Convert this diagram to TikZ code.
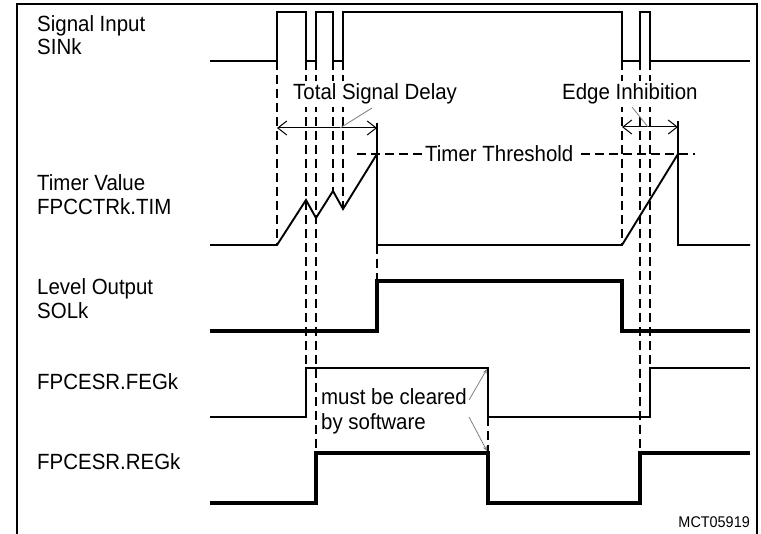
\documentclass[tikz,border=0pt]{standalone}
\usepackage{fontspec}
\setmainfont{Liberation Sans}[FakeStretch=0.93]
\usetikzlibrary{arrows.meta}
\begin{document}
\begin{tikzpicture}[x=1pt,y=-1pt,
  thickwave/.style={line width=3.4pt, line join=miter},
  sigwave/.style={line width=2.6pt, line join=miter},
  thinwave/.style={line width=1.9pt, line join=miter},
  guide/.style={line width=1.2pt, dash pattern=on 9pt off 5pt},
  dimline/.style={line width=1pt, {Straight Barb[length=9pt,width=14pt]}-{Straight Barb[length=9pt,width=14pt]}},
  leader/.style={line width=0.8pt, draw=gray},
  lbl/.style={font=\fontsize{22}{25}\selectfont, inner sep=0pt, anchor=base west},
  tag/.style={lbl, fill=white, inner sep=3pt}
]
\useasboundingbox (0,0) rectangle (761,534);
% frame
\draw[line width=1.5pt] (17,534) -- (17,4) -- (757,4) -- (757,534);

% guide lines
\draw[guide] (277,61) -- (277,245);
\draw[guide] (306,61) -- (306,368);
\draw[guide] (316,61) -- (316,453);
\draw[guide] (333,61) -- (333,191);
\draw[guide] (343,61) -- (343,209);
\draw[guide] (377,245) -- (377,281);
\draw[guide] (622,61) -- (622,245);
\draw[guide] (640,61) -- (640,453);
\draw[guide] (650,61) -- (650,368);
\draw[guide] (488,417) -- (488,453);
\draw[guide] (357,154) -- (695,154);

% waveforms
\draw[sigwave] (210,61) -- (277,61) -- (277,12) -- (306,12) -- (306,61) -- (316,61) -- (316,12) -- (333,12) -- (333,61) -- (343,61) -- (343,12) -- (622,12) -- (622,61) -- (640,61) -- (640,12) -- (650,12) -- (650,61) -- (750,61);
\draw[thinwave] (210,245) -- (277,245) -- (306,200) -- (316,218) -- (333,191) -- (343,209) -- (377,154) -- (377,245) -- (622,245) -- (678,154) -- (678,245) -- (750,245);
\draw[thickwave] (210,331) -- (377,331) -- (377,281) -- (622,281) -- (622,331) -- (750,331);
\draw[thinwave] (210,417) -- (306,417) -- (306,368) -- (488,368) -- (488,417) -- (650,417) -- (650,368) -- (750,368);
\draw[thickwave] (210,503) -- (316,503) -- (316,453) -- (488,453) -- (488,503) -- (640,503) -- (640,453) -- (750,453);

% dimension lines
\draw[line width=1.2pt] (377,123) -- (377,154);
\draw[line width=1.2pt] (678,121) -- (678,154);
\coordinate (tsdL) at (277,128);
\coordinate (tsdR) at (377,128);
\draw[dimline] (tsdL) -- (tsdR);
\coordinate (eiL) at (622,127);
\coordinate (eiR) at (678,127);
\draw[dimline] (eiL) -- (eiR);

% labels
\node[lbl] (sin1) at (37,32) {Signal Input};
\node[lbl] (sin2) at (37,55) {SINk};
\node[lbl] (tim1) at (37,191) {Timer Value};
\node[lbl] (tim2) at (37,214.5) {FPCCTRk.TIM};
\node[lbl] (sol1) at (37,295) {Level Output};
\node[lbl] (sol2) at (37,319) {SOLk};
\node[lbl] (feg) at (37,390) {FPCESR.FEGk};
\node[lbl] (reg) at (37,470) {FPCESR.REGk};

\node[tag] (tsd) at (290,99.5) {Total Signal Delay};
\node[tag] (ei) at (559,99.5) {Edge Inhibition};
\node[tag] (tt) at (422,162) {Timer Threshold};
\node[lbl] (mb1) at (321,405) {must be cleared};
\node[lbl] (mb2) at (321,430) {by software};
\node[lbl, anchor=base east, font=\fontsize{15.5}{18}\selectfont] (id) at (750,528) {MCT05919};

% leaders
\coordinate (tsdA) at (372,108);
\coordinate (tsdB) at (340,128);
\draw[leader] (tsdA) -- (tsdB);
\coordinate (eiA) at (632,107);
\coordinate (eiB) at (648,127);
\draw[leader] (eiA) -- (eiB);
\coordinate (mbA) at (469,400);
\coordinate (mbB) at (487,369);
\coordinate (mbC) at (469,417);
\coordinate (mbD) at (487,451);
\draw[leader,-{Stealth[length=5pt,width=4pt]}] (mbA) -- (mbB);
\draw[leader,-{Stealth[length=5pt,width=4pt]}] (mbC) -- (mbD);
\end{tikzpicture}
\end{document}
